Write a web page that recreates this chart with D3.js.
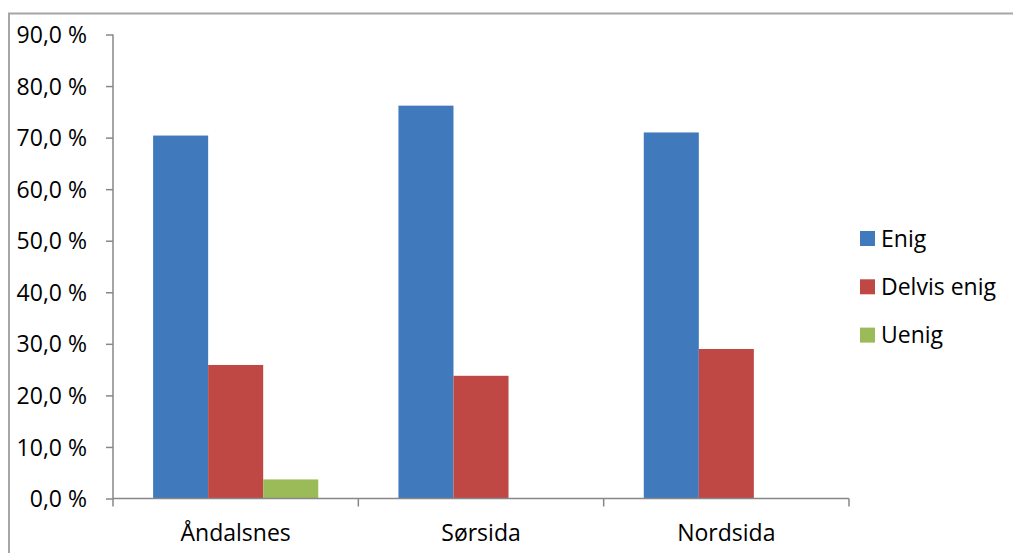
<!DOCTYPE html>
<html>
<head>
<meta charset="utf-8">
<script src="https://cdn.jsdelivr.net/npm/d3@7"></script>
<style>
  body { margin: 0; background: #fff; overflow: hidden; }
  text { font-family: "Open Sans", "Liberation Sans", sans-serif; fill: #000; }
</style>
</head>
<body>
<div id="chart"></div>
<script>
// data
var categories = ["Åndalsnes", "Sørsida", "Nordsida"];
var seriesNames = ["Enig", "Delvis enig", "Uenig"];
var enig = [70.4, 76.2, 71.0];
var delvisEnig = [25.9, 23.8, 29.0];
var uenig = [3.7, 0, 0];
var yTicks = [0, 10, 20, 30, 40, 50, 60, 70, 80, 90];

var colors = ["#4179BD", "#BF4744", "#9BBB59"];

var svgWidth = 1013;
var svgHeight = 553;

var margin = { top: 34.5, left: 113 };
var width = 736;
var height = 464;
var fontSize = "23px";

var svg = d3.select("#chart")
  .append("svg")
  .attr("width", svgWidth)
  .attr("height", svgHeight)
  .style("display", "block");

// outer chart border: only top and left edges are in view
svg.append("path")
  .attr("d", `M9,${svgHeight}V13.5H${svgWidth}`)
  .attr("fill", "none")
  .attr("stroke", "#a6a6a6")
  .attr("stroke-width", 2);

var chartGroup = svg.append("g")
  .attr("transform", `translate(${margin.left}, ${margin.top})`);

// build rows from the arrays
var seriesValues = [enig, delvisEnig, uenig];
var rows = categories.map(function(c, i) {
  return {
    cat: c,
    vals: seriesNames.map(function(s, j) { return { name: s, idx: j, value: seriesValues[j][i] }; })
  };
});

// scales
var x0 = d3.scaleBand()
  .domain(categories)
  .range([0, width])
  .paddingInner(0.327)
  .paddingOuter(0.1635);

var x1 = d3.scaleBand()
  .domain(seriesNames)
  .range([0, x0.bandwidth()]);

var yScale = d3.scaleLinear()
  .domain([0, 90])
  .range([height, 0]);

// bars
var groups = chartGroup.selectAll(".cat")
  .data(rows)
  .enter()
  .append("g")
  .attr("class", "cat")
  .attr("transform", d => `translate(${x0(d.cat)},0)`);

groups.selectAll("rect")
  .data(d => d.vals.filter(v => v.value > 0))
  .enter()
  .append("rect")
  .attr("x", d => x1(d.name))
  .attr("y", d => yScale(d.value))
  .attr("width", x1.bandwidth())
  .attr("height", d => height - yScale(d.value))
  .attr("fill", d => colors[d.idx]);

// y axis
var leftAxis = d3.axisLeft(yScale)
  .tickValues(yTicks)
  .tickSize(7)
  .tickPadding(19)
  .tickFormat(d => d3.format(".1f")(d).replace(".", ",") + " %");

var yAxisG = chartGroup.append("g").call(leftAxis);
yAxisG.select(".domain").attr("stroke", "#878787").attr("stroke-width", 1.5).attr("d", `M0,0V${height}`);
yAxisG.selectAll(".tick line").attr("stroke", "#878787").attr("stroke-width", 1.5);
yAxisG.selectAll(".tick text")
  .style("font-size", fontSize)
  .attr("dy", "0.35em");

// x axis: ticks at category boundaries
var xBounds = d3.scaleLinear().domain([0, categories.length]).range([0, width]);
var xAxisG = chartGroup.append("g")
  .attr("transform", `translate(0, ${height})`);
xAxisG.append("line")
  .attr("x1", 0).attr("x2", width)
  .attr("stroke", "#878787").attr("stroke-width", 1.5);
xAxisG.selectAll(".xtick")
  .data(d3.range(categories.length + 1))
  .enter()
  .append("line")
  .attr("x1", d => xBounds(d)).attr("x2", d => xBounds(d))
  .attr("y1", 0).attr("y2", 8)
  .attr("stroke", "#878787").attr("stroke-width", 1.5);
xAxisG.selectAll(".xlabel")
  .data(categories)
  .enter()
  .append("text")
  .attr("x", d => x0(d) + x0.bandwidth() / 2)
  .attr("y", 42)
  .attr("text-anchor", "middle")
  .style("font-size", fontSize)
  .text(d => d);

// legend
var legend = svg.append("g")
  .attr("transform", "translate(860, 231)");
var items = legend.selectAll(".item")
  .data(seriesNames)
  .enter()
  .append("g")
  .attr("transform", (d, i) => `translate(0, ${i * 48.3})`);
items.append("rect")
  .attr("width", 15).attr("height", 15)
  .attr("fill", (d, i) => colors[i]);
items.append("text")
  .attr("x", 21)
  .attr("y", 7.5)
  .attr("dy", "0.35em")
  .style("font-size", fontSize)
  .text(d => d);
</script>
</body>
</html>
